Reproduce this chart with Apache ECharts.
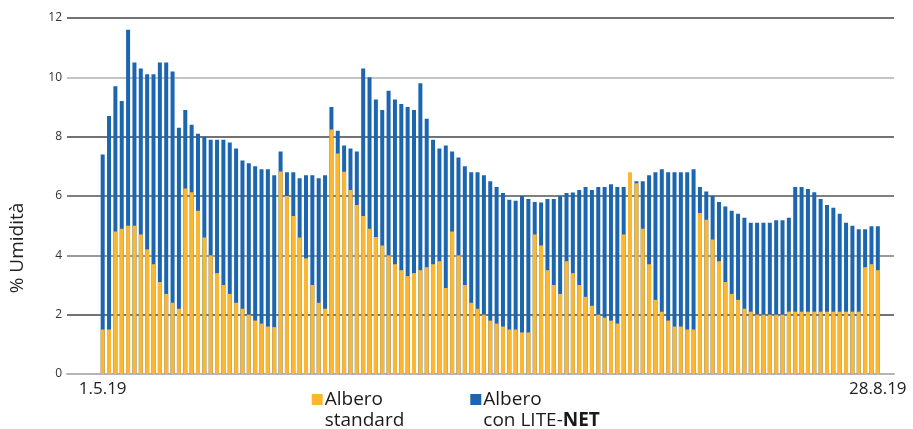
<!DOCTYPE html>
<html>
<head>
<meta charset="utf-8">
<script src="https://cdn.jsdelivr.net/npm/echarts@6/dist/echarts.min.js"></script>
<style>
html,body{margin:0;padding:0;background:#fff;}
#chart{width:913px;height:429px;}
</style>
</head>
<body>
<div id="chart"></div>
<script>
// Albero con LITE-NET (blue, behind)
const liteNet = [
  7.4, 8.7, 9.7, 9.2, 11.6, 10.5, 10.3, 10.1, 10.1, 10.5,
  10.5, 10.2, 8.3, 8.9, 8.4, 8.1, 8.0, 7.9, 7.9, 7.9,
  7.8, 7.6, 7.2, 7.1, 7.0, 6.9, 6.9, 6.7, 7.5, 6.8,
  6.8, 6.6, 6.7, 6.7, 6.6, 6.7, 9.0, 8.2, 7.7, 7.6,
  7.5, 10.3, 10.0, 9.25, 8.9, 9.55, 9.25, 9.1, 9.0, 8.9,
  9.8, 8.6, 7.9, 7.6, 7.7, 7.5, 7.3, 7.0, 6.8, 6.8,
  6.7, 6.5, 6.3, 6.1, 5.87, 5.84, 6.0, 5.9, 5.8, 5.78,
  5.9, 5.9, 6.0, 6.1, 6.12, 6.2, 6.3, 6.2, 6.3, 6.3,
  6.4, 6.3, 6.3, 6.3, 6.5, 6.5, 6.7, 6.8, 6.9, 6.8,
  6.8, 6.8, 6.8, 6.9, 6.3, 6.15, 6.0, 5.8, 5.65, 5.5,
  5.4, 5.27, 5.1, 5.1, 5.1, 5.1, 5.18, 5.18, 5.27, 6.3,
  6.3, 6.24, 6.13, 5.9, 5.7, 5.6, 5.4, 5.1, 5.0, 4.88,
  4.88, 4.98, 4.98
];
// Albero standard (yellow, in front)
const standard = [
  1.5, 1.5, 4.8, 4.9, 5.0, 5.0, 4.7, 4.2, 3.7, 3.1,
  2.7, 2.4, 2.2, 6.25, 6.13, 5.5, 4.6, 4.0, 3.4, 3.0,
  2.7, 2.4, 2.2, 2.0, 1.8, 1.7, 1.6, 1.58, 6.83, 6.0,
  5.33, 4.6, 3.9, 3.0, 2.4, 2.2, 8.24, 7.43, 6.82, 6.2,
  5.7, 5.33, 4.9, 4.62, 4.33, 4.0, 3.7, 3.5, 3.3, 3.4,
  3.5, 3.6, 3.7, 3.8, 2.9, 4.8, 4.0, 3.0, 2.4, 2.2,
  2.0, 1.8, 1.7, 1.6, 1.5, 1.5, 1.4, 1.4, 4.7, 4.33,
  3.5, 3.0, 2.7, 3.8, 3.4, 3.0, 2.6, 2.3, 2.0, 1.9,
  1.8, 1.7, 4.7, 6.8, 6.43, 4.9, 3.7, 2.5, 2.1, 1.8,
  1.6, 1.6, 1.5, 1.5, 5.43, 5.2, 4.53, 3.8, 3.1, 2.7,
  2.5, 2.2, 2.1, 2.0, 2.0, 2.0, 2.0, 2.0, 2.1, 2.1,
  2.1, 2.1, 2.1, 2.1, 2.1, 2.1, 2.1, 2.1, 2.1, 2.1,
  3.6, 3.7, 3.5
];
const xEndLabels = ['1.5.19', '28.8.19'];
const yTicks = [0, 2, 4, 6, 8, 10, 12];
const seriesNames = ['Albero standard', 'Albero con LITE-NET'];
const yTitle = '% Umidità';

const n = liteNet.length;
const categories = liteNet.map((_, i) =>
  i === 0 ? xEndLabels[0] : (i === n - 1 ? xEndLabels[1] : 'd' + (i + 1)));

const FONT = '"Open Sans", "DejaVu Sans", sans-serif';
const chart = echarts.init(document.getElementById('chart'), null, {renderer: 'canvas'});

const legendText = {
  fontFamily: FONT, fontSize: 19, lineHeight: 21, color: '#1a1a1a',
  padding: [21, 0, 0, -3],
  rich: { b: { fontFamily: FONT, fontSize: 19, lineHeight: 21, fontWeight: 'bold', color: '#1a1a1a' } }
};

chart.setOption({
  animation: false,
  backgroundColor: '#ffffff',
  grid: [
    {left: 63, right: 19, top: 18, bottom: 55},
    {left: 99.5, right: 32, top: 18, bottom: 55}
  ],
  legend: [
    {
      data: [seriesNames[0]], left: 311.7, top: 368, padding: 0,
      itemWidth: 11, itemHeight: 11, icon: 'rect',
      formatter: () => 'Albero\nstandard',
      textStyle: legendText
    },
    {
      data: [seriesNames[1]], left: 470.3, top: 368, padding: 0,
      itemWidth: 11, itemHeight: 11, icon: 'rect',
      formatter: () => 'Albero\ncon LITE-{b|NET}',
      textStyle: legendText
    }
  ],
  xAxis: [
    {
      gridIndex: 0, type: 'value', min: 0, max: 1,
      axisLine: {show: true, lineStyle: {color: '#b5b5b5', width: 2}},
      axisTick: {show: false}, axisLabel: {show: false}, splitLine: {show: false}
    },
    {
      gridIndex: 1, type: 'category', data: categories, boundaryGap: true,
      axisLine: {show: false}, axisTick: {show: false}, splitLine: {show: false},
      axisLabel: {
        interval: (i) => i === 0 || i === n - 1,
        margin: 7,
        fontFamily: FONT, fontSize: 17, color: '#222'
      }
    }
  ],
  yAxis: [
    {
      gridIndex: 0, type: 'value', min: yTicks[0], max: yTicks[yTicks.length - 1], interval: 2,
      axisLine: {show: false}, axisTick: {show: false},
      axisLabel: {fontFamily: FONT, fontSize: 12, color: '#333', margin: 5},
      splitLine: {show: true, lineStyle: {width: 1.5, color: ['#b8b8b8', '#444', '#7a7a7a', '#555', '#444', '#b0b0b0', '#444']}},
      name: yTitle, nameLocation: 'middle', nameGap: 40, nameRotate: 90,
      nameTextStyle: {fontFamily: FONT, fontSize: 19, color: '#222', padding: [0, 104, 0, 0]}
    },
    {
      gridIndex: 1, type: 'value', min: yTicks[0], max: yTicks[yTicks.length - 1], interval: 2,
      show: false
    }
  ],
  series: [
    {
      name: seriesNames[1], type: 'bar', xAxisIndex: 1, yAxisIndex: 1,
      data: liteNet, barWidth: 4, barGap: '-100%',
      itemStyle: {color: '#1c66b0'}
    },
    {
      name: seriesNames[0], type: 'bar', xAxisIndex: 1, yAxisIndex: 1,
      data: standard, barWidth: 4, barGap: '-100%',
      itemStyle: {color: '#fbb731'}
    }
  ]
});
</script>
</body>
</html>
